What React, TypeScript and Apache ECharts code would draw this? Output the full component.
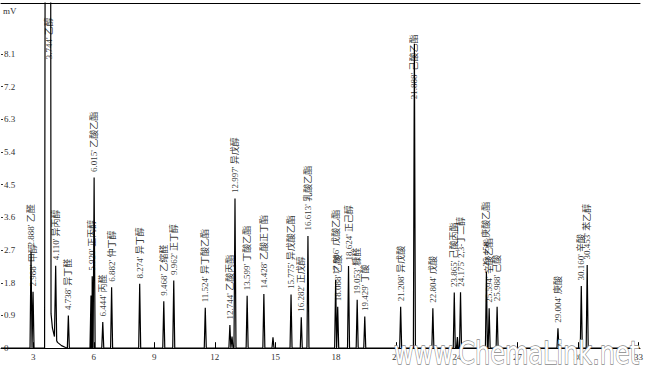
import React, { useEffect, useRef } from "react";
import * as echarts from "echarts";

// Retention time (min), apex height (mV), compound label
const peakTimes = [2.888, 2.988, 4.11, 4.738, 5.86, 5.92, 6.015, 6.444, 6.882, 8.274, 9.468, 9.962, 11.524, 12.744, 12.85, 12.997, 13.599, 14.428, 14.88, 15.775, 16.282, 16.613, 17.986, 18.088, 18.624, 19.053, 19.429, 21.208, 21.888, 22.804, 23.865, 24.02, 24.175, 25.458, 25.594, 25.988, 29.004, 30.16, 30.453];
const peakHeights = [2.65, 1.55, 2.27, 0.9, 1.45, 1.98, 4.7, 0.72, 1.68, 1.77, 1.29, 1.86, 1.11, 0.64, 0.32, 4.12, 1.44, 1.49, 0.3, 1.48, 0.85, 3.09, 1.88, 1.14, 2.26, 1.33, 0.87, 1.14, 8.38, 1.1, 1.53, 0.31, 1.54, 2.1, 1.1, 1.14, 0.55, 1.71, 2.29];
const peakNames = ["2.888' 乙醛", "2.988' 甲醇", "4.110' 异丙醇", "4.738' 异丁醛", "", "5.920' 正丙醇", "6.015' 乙酸乙酯", "6.444' 丙醛", "6.882' 仲丁醇", "8.274' 异丁醇", "9.468' 乙缩醛", "9.962' 正丁醇", "11.524' 异丁酸乙酯", "12.744' 乙酸丙酯", "", "12.997' 异戊醇", "13.599' 丁酸乙酯", "14.428' 乙酸正丁酯", "", "15.775' 异戊酸乙酯", "16.282' 正戊醇", "16.613' 乳酸乙酯", "17.986' 戊酸乙酯", "18.088' 乙酸", "18.624' 正己醇", "19.053' 糠醛", "19.429' 丁酸", "21.208' 异戊酸", "21.888' 己酸乙酯", "22.804' 戊酸", "23.865' 己酸丙酯", "", "24.175' 2,3-丁二醇", "25.458' 庚酸乙酯", "25.594' 辛酸乙酯", "25.988' 己酸", "29.004' 庚酸", "30.160' 辛酸", "30.453' 苯乙醇"];

// Off-scale solvent (ethanol) peak and its tail, [time, mV]
const ethanolTrace: [number, number][] = [[3.56, 0], [3.59, 12], [3.86, 12], [3.88, 0.95], [3.95, 0.55], [4.05, 0.32], [4.2, 0.16], [4.4, 0.07], [4.6, 0.02], [4.7, 0]];
const ethanolLabel = { time: 3.78, name: "3.744' 乙醇" };

const xTicks = [3, 6, 9, 12, 15, 18, 21, 24, 27, 30, 33];
const yTicks = [0, 0.9, 1.8, 2.7, 3.6, 4.5, 5.4, 6.3, 7.2, 8.1];

const X_MIN = 1.4;
const X_MAX = 33.07;
const LABEL_CAP = 6.7;
const ETHANOL_LABEL_LEVEL = 7.8;

function background(t: number): number {
  const tr = ethanolTrace;
  if (t <= tr[0][0] || t >= tr[tr.length - 1][0]) return 0;
  for (let i = 0; i < tr.length - 1; i++) {
    if (t >= tr[i][0] && t <= tr[i + 1][0]) {
      const f = (t - tr[i][0]) / (tr[i + 1][0] - tr[i][0]);
      return tr[i][1] + f * (tr[i + 1][1] - tr[i][1]);
    }
  }
  return 0;
}

function buildTrace(): [number, number][] {
  const hw = 0.05;
  const items: [number, number][] = [];
  ethanolTrace.forEach((p) => items.push([p[0], p[1]]));
  peakTimes.forEach((t, i) => {
    items.push([t - hw, background(t - hw)]);
    items.push([t, peakHeights[i]]);
    items.push([t + hw, background(t + hw)]);
  });
  items.sort((a, b) => a[0] - b[0]);
  return [[X_MIN, 0], ...items, [X_MAX, 0]];
}

export default function App() {
  const ref = useRef<HTMLDivElement>(null);
  useEffect(() => {
    if (!ref.current) return;
    const chart = echarts.init(ref.current, undefined, { renderer: "svg" });
    const labelData: any[] = [];
    labelData.push({ value: [ethanolLabel.time, ETHANOL_LABEL_LEVEL], name: ethanolLabel.name });
    peakTimes.forEach((t, i) => {
      if (peakNames[i]) labelData.push({ value: [t, Math.min(peakHeights[i], LABEL_CAP)], name: peakNames[i] });
    });
    const font = "'Liberation Serif', 'Noto Sans CJK SC', serif";
    chart.setOption({
      animation: false,
      backgroundColor: "#fff",
      grid: { left: 0, right: 10, top: 3, bottom: 6, containLabel: false },
      xAxis: [
        {
          type: "value",
          min: X_MIN,
          max: X_MAX,
          position: "bottom",
          axisLine: { show: true, lineStyle: { color: "#000", width: 1 } },
          axisTick: { show: true, inside: true, length: 6, customValues: xTicks, lineStyle: { color: "#000" } },
          axisLabel: { show: true, inside: true, margin: 9, customValues: xTicks, fontSize: 9, color: "#333", fontFamily: font },
          splitLine: { show: false },
        },
        {
          type: "value",
          min: X_MIN,
          max: X_MAX,
          position: "top",
          axisLine: { show: true, onZero: false, lineStyle: { color: "#000", width: 1 } },
          axisTick: { show: false },
          axisLabel: { show: false },
          splitLine: { show: false },
        },
      ],
      yAxis: {
        type: "value",
        min: -0.6,
        max: 9.5,
        name: "mV",
        nameLocation: "end",
        nameGap: -8,
        nameTextStyle: { align: "left", verticalAlign: "middle", fontSize: 9, color: "#333", fontFamily: font, padding: [0, 0, 0, 2] },
        axisLine: { show: false },
        axisTick: { show: true, inside: true, length: 2, customValues: yTicks, lineStyle: { color: "#333" } },
        axisLabel: {
          show: true,
          inside: true,
          margin: 3,
          customValues: yTicks,
          fontSize: 9,
          color: "#333",
          fontFamily: font,
          formatter: (v: number) => (v === 0 ? "0" : v.toFixed(1)),
        },
        splitLine: { show: false },
      },
      series: [
        {
          type: "line",
          data: buildTrace(),
          showSymbol: false,
          symbol: "none",
          clip: true,
          lineStyle: { color: "#000", width: 1.2 },
          silent: true,
          z: 2,
        },
        {
          type: "scatter",
          data: labelData,
          symbolSize: 1,
          itemStyle: { color: "rgba(0,0,0,0)" },
          silent: true,
          z: 3,
          label: {
            show: true,
            position: "top",
            distance: 5,
            rotate: 90,
            align: "left",
            verticalAlign: "middle",
            fontSize: 9,
            color: "#000",
            fontFamily: font,
            backgroundColor: "transparent",
            formatter: (p: any) => p.name,
          },
        },
      ],
      graphic: [
        {
          type: "text",
          x: 394,
          y: 338,
          scaleY: 1.3,
          z: 100,
          style: {
            text: "www.ChemaLink.net",
            font: "24px 'DejaVu Sans', sans-serif",
            fill: "#fff",
            stroke: "#888",
            lineWidth: 1,
            textVerticalAlign: "top",
          },
        },
      ],
    });
    return () => chart.dispose();
  }, []);
  return <div ref={ref} style={{ width: 650, height: 376, position: "absolute", left: 0, top: 0 }} />;
}
